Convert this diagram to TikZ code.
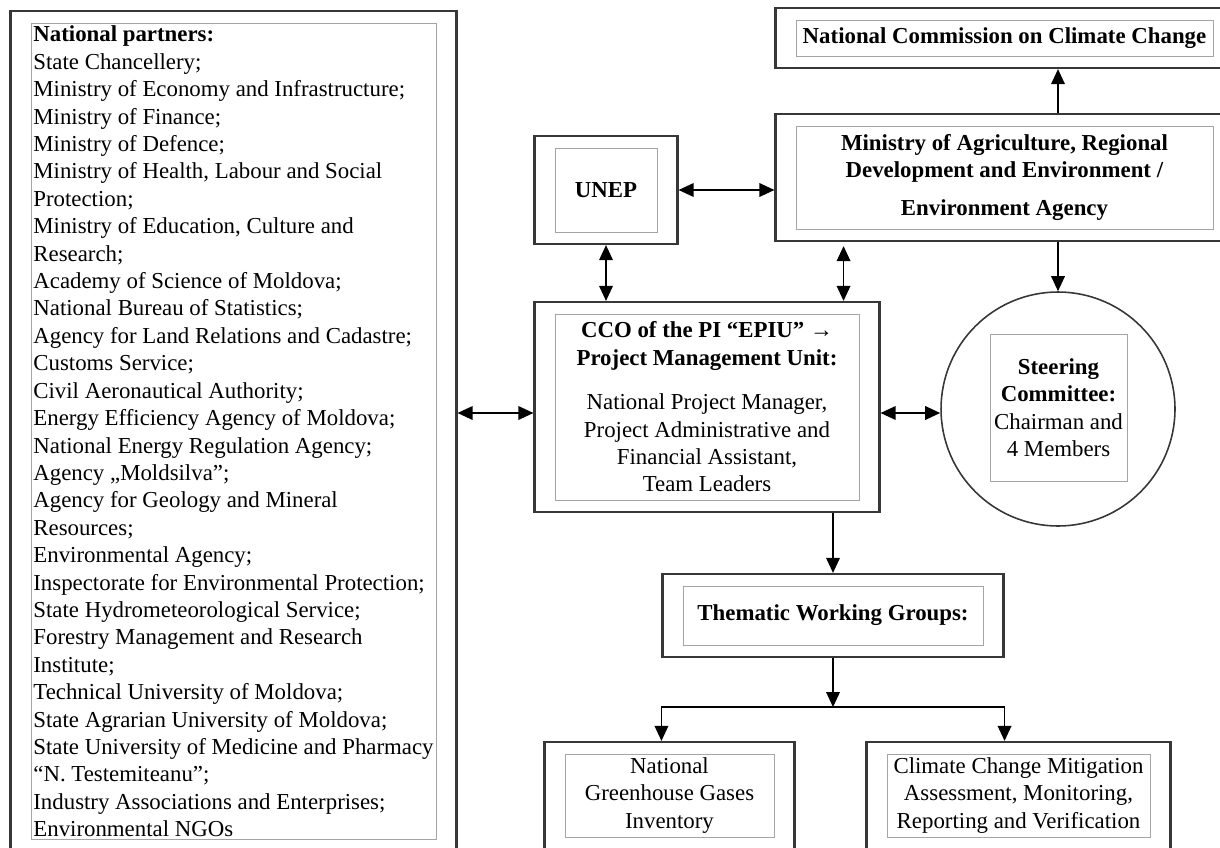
\documentclass[tikz,border=0pt]{standalone}
\usepackage{fontspec}
\setmainfont{Liberation Serif}
\usepackage{tikz}
\usetikzlibrary{arrows.meta, positioning, calc, fit}
\definecolor{cFrame}{RGB}{55,55,55}
\definecolor{cInner}{RGB}{165,165,165}
\tikzset{
	inbox/.style ={rectangle, draw=cInner, line width=0.5pt, align=center, inner sep=1pt},
	frame/.style ={rectangle, draw=cFrame, line width=1.3pt, inner xsep=0.4cm, inner ysep=0.23cm},
	ring/.style  ={circle, draw=cFrame, line width=0.9pt, minimum size=4.68cm, inner sep=0pt},
	sig/.style   ={-{Triangle[length=0.3cm, width=0.27cm]}, line width=1pt},
	dsig/.style  ={{Triangle[length=0.3cm, width=0.27cm]}-{Triangle[length=0.3cm, width=0.27cm]}, line width=1pt},
}
\begin{document}
\begin{tikzpicture}[x=0.02cm, y=-0.02cm, font=\fontsize{13pt}{15.6pt}\selectfont]
\useasboundingbox (0,0) rectangle (1220,848);
\begin{scope}
\clip (0,0) rectangle (1220,848);
\node[inbox, align=left, minimum width=8.1cm, minimum height=16.34cm] (partners) at (233.5,431.5) {\textbf{National partners:}\\
State Chancellery;\\
Ministry of Economy and Infrastructure;\\
Ministry of Finance;\\
Ministry of Defence;\\
Ministry of Health, Labour and Social\\
Protection;\\
Ministry of Education, Culture and\\
Research;\\
Academy of Science of Moldova;\\
National Bureau of Statistics;\\
Agency for Land Relations and Cadastre;\\
Customs Service;\\
Civil Aeronautical Authority;\\
Energy Efficiency Agency of Moldova;\\
National Energy Regulation Agency;\\
Agency „Moldsilva”;\\
Agency for Geology and Mineral\\
Resources;\\
Environmental Agency;\\
Inspectorate for Environmental Protection;\\
State Hydrometeorological Service;\\
Forestry Management and Research\\
Institute;\\
Technical University of Moldova;\\
State Agrarian University of Moldova;\\
State University of Medicine and Pharmacy\\
“N. Testemiteanu”;\\
Industry Associations and Enterprises;\\
Environmental NGOs};
\node[frame, fit=(partners)] (partnersF) {};
\node[inbox, minimum width=8.34cm, minimum height=0.72cm] (nccc) at (1004.5,38) {\textbf{National Commission on Climate Change}};
\node[frame, fit=(nccc)] (ncccF) {};
\node[inbox, minimum width=8.34cm, minimum height=2.06cm] (ministry) at (1004.5,177.5) {\textbf{Ministry of Agriculture, Regional}\\ \textbf{Development and Environment /}\\[0.22cm] \textbf{Environment Agency}};
\node[frame, fit=(ministry)] (ministryF) {};
\node[inbox, minimum width=2.04cm, minimum height=1.68cm] (unep) at (606,190) {\textbf{UNEP}};
\node[frame, fit=(unep)] (unepF) {};
\node[inbox, minimum width=6.08cm, minimum height=3.72cm] (pmu) at (707,407) {\textbf{CCO of the PI “EPIU” →}\\ \textbf{Project Management Unit:}\\[0.34cm] National Project Manager,\\ Project Administrative and\\ Financial Assistant,\\ Team Leaders};
\node[frame, fit=(pmu)] (pmuF) {};
\node[ring] (steer) at (1058,409) {};
\node[inbox, minimum width=2.74cm, minimum height=2.94cm] (steerin) at (1058.5,407.5) {\textbf{Steering}\\ \textbf{Committee:}\\ Chairman and\\ 4 Members};
\node[inbox, minimum width=6cm, minimum height=1.18cm] (twg) at (833,615.5) {\textbf{Thematic Working Groups:}};
\node[frame, fit=(twg)] (twgF) {};
\node[inbox, minimum width=4.18cm, minimum height=1.66cm] (ghg) at (669.5,795.5) {National\\ Greenhouse Gases\\ Inventory};
\node[frame, fit=(ghg)] (ghgF) {};
\node[inbox, minimum width=5.26cm, minimum height=1.66cm] (mrv) at (1018.5,795.5) {Climate Change Mitigation\\ Assessment, Monitoring,\\ Reporting and Verification};
\node[frame, fit=(mrv)] (mrvF) {};
\coordinate (mp) at ($(pmuF.north east)+(-37,0)$);
\coordinate (mid) at ($(pmuF.west)+(0,6)$);
\coordinate (split) at ($(twgF.south)+(0,49)$);
\draw[sig] (steer.north |- ministryF.north) -- (steer.north |- ncccF.south);
\draw[sig] (steer.north |- ministryF.south) -- (steer.north);
\draw[dsig] (unepF.east) -- (unepF.east -| ministryF.west);
\draw[dsig] (unepF.south) -- (unepF.south |- pmuF.north);
\draw[dsig] ($(mp |- ministryF.south)+(0,4)$) -- (mp);
\draw[dsig] (partnersF.east |- mid) -- (mid);
\draw[dsig] (pmuF.east |- mid) -- (steer.west |- mid);
\draw[sig] (twgF.north |- pmuF.south) -- (twgF.north);
\draw[sig] (twgF.south) -- (split);
\draw[sig] (split) -| (twgF.south west |- ghgF.north);
\draw[sig] (split) -| (twgF.south east |- mrvF.north);
\end{scope}
\end{tikzpicture}
\end{document}
